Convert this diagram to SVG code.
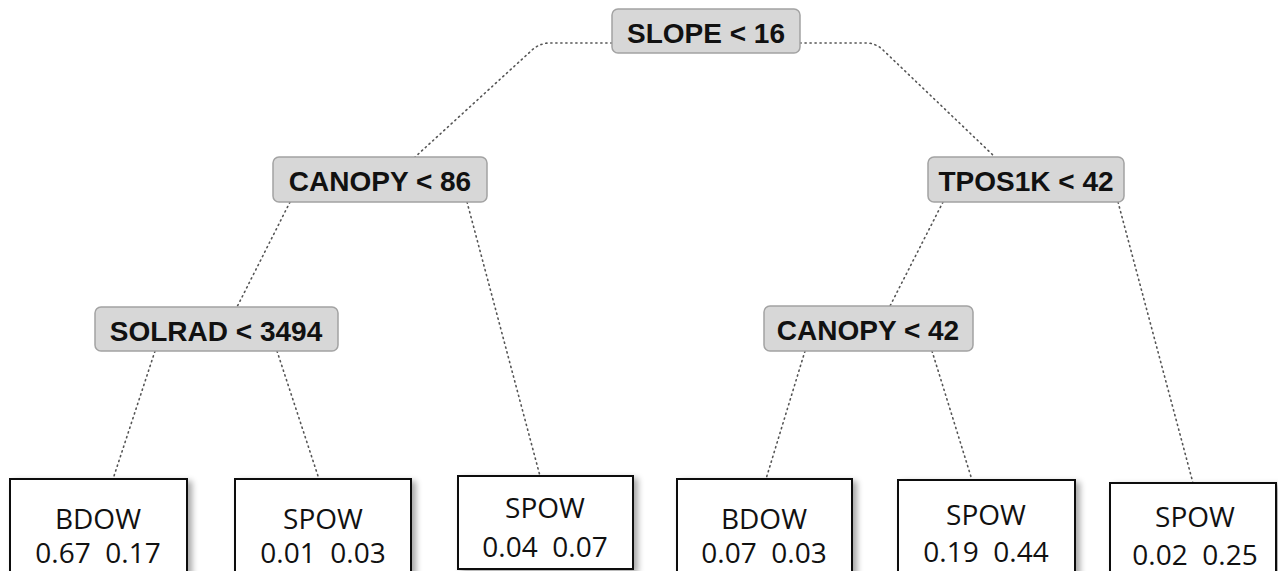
<svg xmlns="http://www.w3.org/2000/svg" width="1278" height="571" viewBox="0 0 1278 571">
  <defs>
    <filter id="leafShadow" x="-10%" y="-10%" width="130%" height="130%">
      <feGaussianBlur in="SourceAlpha" stdDeviation="3"/>
      <feOffset dx="4" dy="3" result="blur"/>
      <feComponentTransfer><feFuncA type="linear" slope="0.35"/></feComponentTransfer>
      <feMerge><feMergeNode/><feMergeNode in="SourceGraphic"/></feMerge>
    </filter>
  </defs>
  <style>
    .split rect { fill: #d7d7d7; stroke: #a3a3a3; stroke-width: 1.5; }
    .split text { font-family: "Liberation Sans", Arial, sans-serif; font-weight: bold; font-size: 28px; fill: #111; text-anchor: middle; }
    .leaf rect { fill: #ffffff; stroke: #111; stroke-width: 2; }
    .leaf text { font-family: "Open Sans", "Liberation Sans", sans-serif; font-size: 28px; fill: #111; text-anchor: middle; white-space: pre; }
    .edges path { fill: none; stroke: #555; stroke-width: 1.6; stroke-dasharray: 1.2 3.8; stroke-linecap: round; }
  </style>
  <rect width="1278" height="571" fill="#ffffff"/>

  <!-- dotted branches -->
  <g class="edges">
    <path d="M612,43 L548,43 Q538,44 531,51 L415,157"/>
    <path d="M800,43 L868,43 Q877,44 883,50 L995,157"/>
    <path d="M290,202 L237,307"/>
    <path d="M467,202 L540,476"/>
    <path d="M155,351 L113,479"/>
    <path d="M277,351 L319,479"/>
    <path d="M943,202 L890,306"/>
    <path d="M1118,202 L1193,483"/>
    <path d="M805,351 L766,479"/>
    <path d="M932,351 L972,480"/>
  </g>

  <!-- split nodes -->
  <g id="slope" class="split">
    <rect x="612" y="9" width="188" height="44" rx="6"/>
    <text x="706" y="43">SLOPE &lt; 16</text>
  </g>
  <g id="canopy86" class="split">
    <rect x="273" y="157" width="214" height="45" rx="6"/>
    <text x="380" y="191">CANOPY &lt; 86</text>
  </g>
  <g id="solrad" class="split">
    <rect x="95" y="307" width="243" height="44" rx="6"/>
    <text x="216" y="341">SOLRAD &lt; 3494</text>
  </g>
  <g id="tpos1k" class="split">
    <rect x="928" y="157" width="196" height="45" rx="6"/>
    <text x="1026" y="191">TPOS1K &lt; 42</text>
  </g>
  <g id="canopy42" class="split">
    <rect x="764" y="306" width="209" height="45" rx="6"/>
    <text x="868" y="340">CANOPY &lt; 42</text>
  </g>

  <!-- leaf nodes -->
  <g id="leaf1" class="leaf">
    <rect x="10" y="479" width="177" height="100" filter="url(#leafShadow)"/>
    <text x="98" y="529">BDOW</text>
    <text x="98" y="563" xml:space="preserve">0.67  0.17</text>
  </g>
  <g id="leaf2" class="leaf">
    <rect x="235" y="479" width="176" height="100" filter="url(#leafShadow)"/>
    <text x="323" y="529">SPOW</text>
    <text x="323" y="563" xml:space="preserve">0.01  0.03</text>
  </g>
  <g id="leaf3" class="leaf">
    <rect x="458" y="476" width="175" height="93" filter="url(#leafShadow)"/>
    <text x="545" y="518">SPOW</text>
    <text x="545" y="557" xml:space="preserve">0.04  0.07</text>
  </g>
  <g id="leaf4" class="leaf">
    <rect x="677" y="479" width="175" height="100" filter="url(#leafShadow)"/>
    <text x="764" y="529">BDOW</text>
    <text x="764" y="563" xml:space="preserve">0.07  0.03</text>
  </g>
  <g id="leaf5" class="leaf">
    <rect x="898" y="480" width="177" height="100" filter="url(#leafShadow)"/>
    <text x="986" y="525">SPOW</text>
    <text x="986" y="562" xml:space="preserve">0.19  0.44</text>
  </g>
  <g id="leaf6" class="leaf">
    <rect x="1110" y="483" width="166" height="100" filter="url(#leafShadow)"/>
    <text x="1195" y="527">SPOW</text>
    <text x="1195" y="565" xml:space="preserve">0.02  0.25</text>
  </g>
</svg>
